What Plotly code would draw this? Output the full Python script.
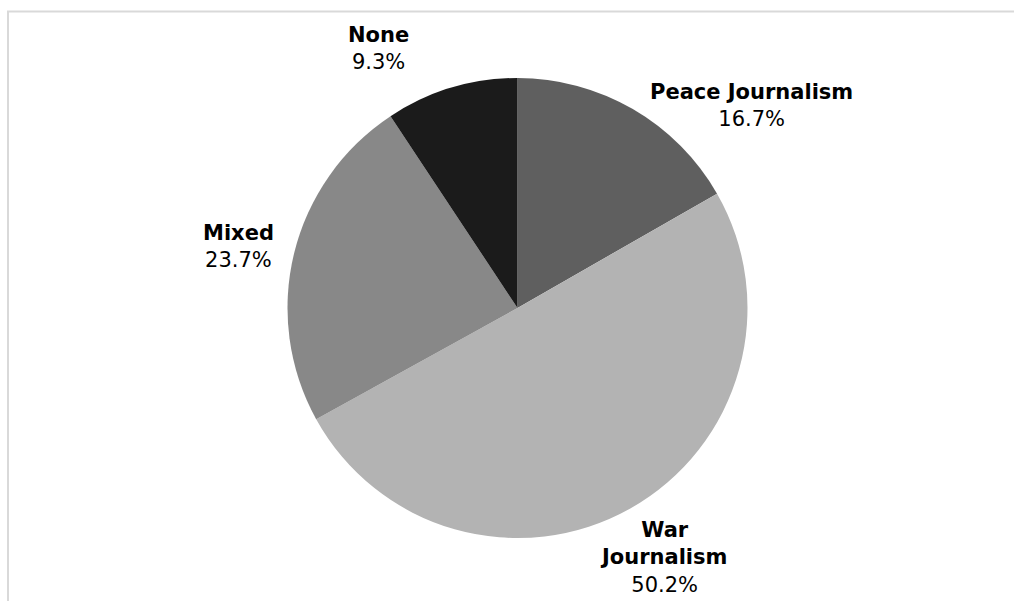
import plotly.graph_objects as go

categories = ["Peace Journalism", "War Journalism", "Mixed", "None"]
label_lines = ["Peace Journalism", "War<br>Journalism", "Mixed", "None"]
values = [16.7, 50.2, 23.7, 9.3]
colors = ["#5f5f5f", "#b3b3b3", "#888888", "#1b1b1b"]

W, H = 1014, 601
cx, cy, r = 517.5, 308, 230

fig = go.Figure()
fig.add_trace(go.Pie(
    labels=categories,
    values=values,
    sort=False,
    direction="clockwise",
    rotation=0,
    marker=dict(colors=colors, line=dict(width=0)),
    textinfo="none",
    hoverinfo="label+percent",
    showlegend=False,
    domain=dict(x=[(cx - r) / W, (cx + r) / W], y=[(H - cy - r) / H, (H - cy + r) / H]),
))

# label anchor positions (pixels, centre of text block)
label_pos = [(751, 105), (663, 557), (238, 246), (378, 48)]
for lab, val, (px, py) in zip(label_lines, values, label_pos):
    fig.add_annotation(
        x=px / W, y=1 - py / H, xref="paper", yref="paper",
        text=f"<b>{lab}</b><br>{val:.1f}%",
        showarrow=False, xanchor="center", yanchor="middle", align="center",
        font=dict(family="DejaVu Sans", size=21, color="#000000"),
    )

fig.add_shape(type="rect", xref="paper", yref="paper",
              x0=8 / W, x1=1.1, y0=-0.1, y1=1 - 11.5 / H,
              line=dict(color="#d9d9d9", width=2), fillcolor="rgba(0,0,0,0)", layer="below")

fig.update_layout(
    width=W, height=H,
    margin=dict(l=0, r=0, t=0, b=0),
    paper_bgcolor="white", plot_bgcolor="white",
)
fig.write_html(
    "out.html",
    config={"displayModeBar": False},
    post_script="document.body.style.margin='0';document.body.style.overflow='hidden';",
)
